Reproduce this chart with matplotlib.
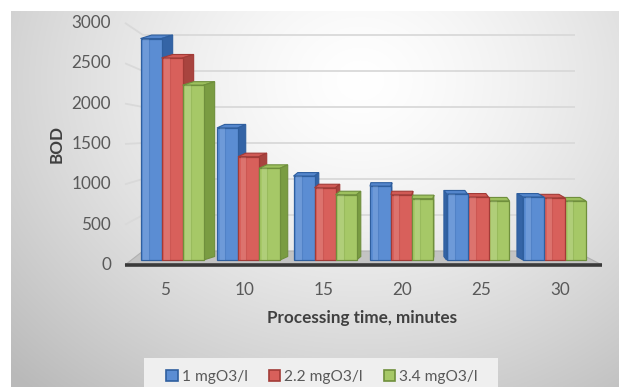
import numpy as np
import matplotlib
matplotlib.use("Agg")
import matplotlib.pyplot as plt
from matplotlib.patches import Polygon, Rectangle, Patch

# ---------------- data ----------------
categories = ["5", "10", "15", "20", "25", "30"]
series_names = ["1 mgO3/l", "2.2 mgO3/l", "3.4 mgO3/l"]
bod_1 = [2850, 1700, 1080, 950, 850, 810]
bod_22 = [2600, 1330, 930, 840, 810, 800]
bod_34 = [2250, 1180, 840, 790, 760, 760]
y_ticks = [0, 500, 1000, 1500, 2000, 2500, 3000]
x_label = "Processing time, minutes"
y_label = "BOD"

series = [bod_1, bod_22, bod_34]

# ---------------- style ----------------
plt.rcParams['font.family'] = ['Lato', 'DejaVu Sans']
front_c = ['#5b8dd3', '#d8605b', '#a6c867']
edge_c = ['#2f5f9f', '#a23b37', '#6f8f3c']
side_c = ['#3464a6', '#a8443f', '#7a9c42']
top_c = ['#5486cc', '#d05a55', '#9dc05e']
txt_c = '#595959'
lab_c = '#404040'
FS = 12.3

W, H = 619, 387
fig = plt.figure(figsize=(W / 100, H / 100), dpi=100)

# background radial gradient
bg = fig.add_axes([0, 0, 1, 1])
yy, xx = np.mgrid[0:H, 0:W]
r = np.hypot((xx - 360) / 380.0, (yy - 80) / 320.0)
g = 1 - 0.19 * np.clip(r, 0, 1.3) ** 1.4
img = np.dstack([g, g, g])
img[:11, :, :] = 1
img[:, :11, :] = 1
bg.imshow(img, extent=[0, W, H, 0], aspect='auto', interpolation='bilinear')
bg.set_axis_off()

# main axes: data units (category index, BOD) mapped onto the bar plane
X0, SX = 172.0, 76.5      # px of category 0, px per category
Y0, SY = 260.0, 0.0777    # px of BOD 0, px per BOD unit


def px_to_x(px):
    return (px - X0) / SX


def px_to_v(py):
    return (Y0 - py) / SY


def v_front(t):
    return px_to_v(265 - 0.0807 * t)


def v_back(t):
    return px_to_v(251 - 0.072 * t)


ax = fig.add_axes([0, 0, 1, 1])
ax.set_xlim(px_to_x(0), px_to_x(W))
ax.set_ylim(px_to_v(H), px_to_v(0))
ax.set_axis_off()
ax.patch.set_alpha(0)

x_fl, x_bl, x_br, x_fr = px_to_x(125), px_to_x(143), px_to_x(575), px_to_x(602)

# walls gridlines
for t in y_ticks[1:]:
    ax.plot([x_fl, x_bl, x_br], [v_front(t), v_back(t), v_back(t)],
            color='#d9d9d9', lw=1.3, zorder=1, solid_capstyle='butt')

# floor
floor = Polygon([(x_fl, v_front(0)), (x_fr, v_front(0)), (x_br, v_back(0)), (x_bl, v_back(0))],
                closed=True, facecolor='#c3c3c3', edgecolor='#b0b0b0', lw=0.8, zorder=2)
ax.add_patch(floor)
ax.plot([x_fl, x_fr], [v_front(0), v_front(0)], color='#3a3a3a', lw=2.6, zorder=50,
        solid_capstyle='butt')

# bars
n = len(categories)
xs = np.arange(n)
bw = 21.0 / SX
offsets = [-bw, 0.0, bw]
dy = 3.5 / SY
for s, vals in enumerate(series):
    bars = ax.bar(xs + offsets[s], vals, bw, color=front_c[s], edgecolor=edge_c[s],
                  lw=0.9, zorder=10)
    for i, b in enumerate(bars):
        cx_px = X0 + SX * i
        dxd = 0.045 * (420 - cx_px) / SX
        order = s if dxd >= 0 else 2 - s
        z = 10 + order * 3
        x0 = b.get_x()
        x1 = x0 + bw
        v = vals[i]
        top = Polygon([(x0, v), (x1, v), (x1 + dxd, v + dy), (x0 + dxd, v + dy)], closed=True,
                      facecolor=top_c[s], edgecolor=edge_c[s], lw=0.8, zorder=z)
        xe = x1 if dxd >= 0 else x0
        side = Polygon([(xe, 0), (xe, v), (xe + dxd, v + dy), (xe + dxd, dy)], closed=True,
                       facecolor=side_c[s], edgecolor=edge_c[s], lw=0.8, zorder=z)
        ax.add_patch(top)
        ax.add_patch(side)
        b.set_zorder(z + 1)
        hl = Rectangle((x0 + bw * 0.12, 0), bw * 0.28, v, facecolor='white', alpha=0.12,
                       lw=0, zorder=z + 1.5)
        ax.add_patch(hl)
        ax.plot([x0 + bw * 0.4, x0 + bw * 0.4], [0, v], color=edge_c[s], alpha=0.22, lw=0.8,
                zorder=z + 1.6)

# tick labels
for t in y_ticks:
    ax.text(px_to_x(111), v_front(t), str(t), ha='right', va='center', fontsize=FS,
            color=txt_c, zorder=60)
c, k = 2.7, 1.033
for i, lab in enumerate(categories):
    ax.text(c + (i - c) * k, px_to_v(290), lab, ha='center', va='center', fontsize=FS,
            color=txt_c, zorder=60)

ax.text(px_to_x(362), px_to_v(318), x_label, ha='center', va='center', fontsize=FS,
        fontweight='bold', color=lab_c, zorder=60)
ax.text(px_to_x(57), px_to_v(144), y_label, ha='center', va='center', fontsize=FS,
        fontweight='bold', color=lab_c, rotation=90, zorder=60)

# legend
fig.patches.append(Rectangle((144 / W, 0), (498 - 144) / W, (387 - 358) / H,
                             transform=fig.transFigure, facecolor='#efefef', edgecolor='none',
                             zorder=1))
handles = [Patch(facecolor=front_c[s], edgecolor=edge_c[s], lw=1.2) for s in range(3)]
leg = fig.legend(handles, series_names, loc='center', bbox_to_anchor=(322 / W, 1 - 377 / H),
                 ncol=3, frameon=False, handlelength=0.75, handleheight=0.75,
                 columnspacing=1.35, handletextpad=0.25, fontsize=11.2)
for t in leg.get_texts():
    t.set_color(txt_c)
leg.set_zorder(5)

fig.savefig('out.png', dpi=100)
